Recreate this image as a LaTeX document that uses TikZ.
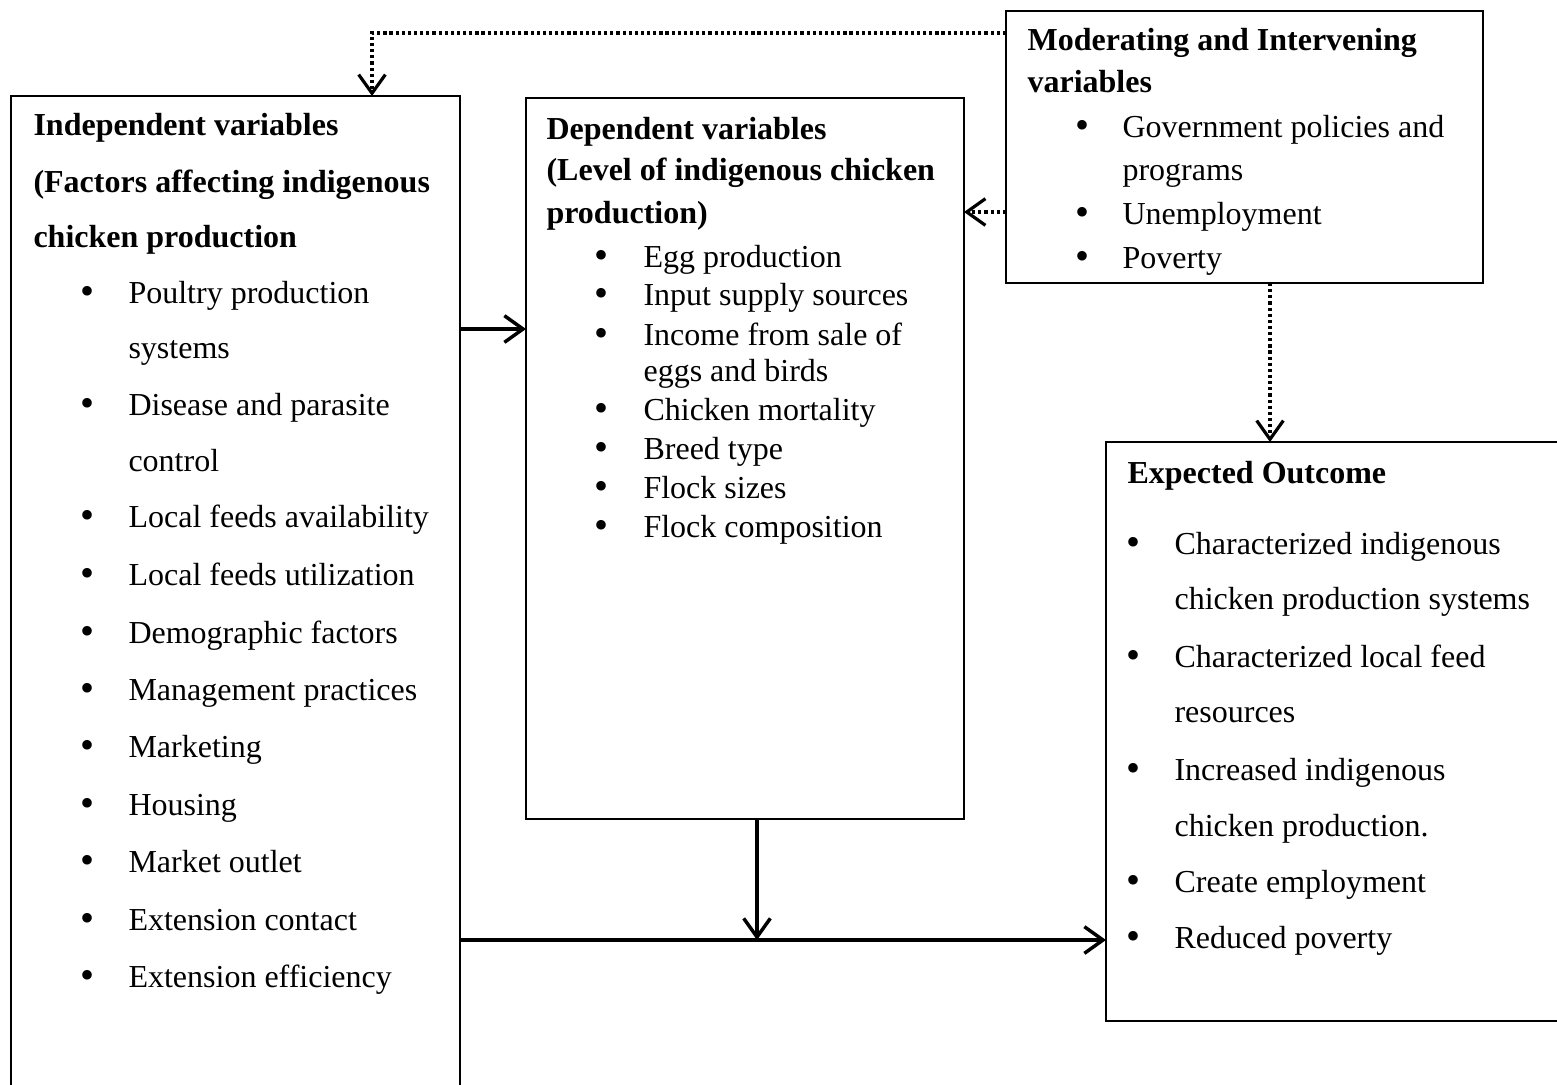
\documentclass[tikz,border=0pt]{standalone}
\usepackage{fontspec}
\setmainfont{Liberation Serif}
\usetikzlibrary{arrows.meta}
\begin{document}
\begin{tikzpicture}[x=0.375pt,y=-0.375pt,
  box/.style={draw, line width=0.6pt, inner sep=0pt, outer sep=0pt, anchor=north west},
  ln/.style={anchor=base west, inner sep=0pt, font=\fontsize{12pt}{14pt}\selectfont},
  hd/.style={anchor=base west, inner sep=0pt, font=\fontsize{12pt}{14pt}\selectfont\bfseries},
  bul/.style={anchor=center, inner sep=0pt, font=\fontsize{15pt}{15pt}\selectfont},
  solidarrow/.style={line width=1.3pt, -{Straight Barb[length=7pt,width=10pt]}},
  dotarrow/.style={line width=1.4pt, dash pattern=on 1.2pt off 1.1pt, -{Straight Barb[length=7pt,width=10pt,line width=1.2pt]}}]
\useasboundingbox (0,0) rectangle (1557,1084);

% boxes
\node[box, minimum width=168.375pt, minimum height=374.625pt] (ind) at (11,96) {};
\node[box, minimum width=164.25pt, minimum height=270.375pt] (dep) at (526,98) {};
\node[box, minimum width=178.875pt, minimum height=102pt] (mod) at (1006,11) {};
\node[box, minimum width=170.25pt, minimum height=217.125pt] (exp) at (1106,442) {};

% independent variables
\node[hd] (i1) at (33,135) {Independent variables};
\node[hd] (i2) at (33,192) {(Factors affecting indigenous};
\node[hd] (i3) at (33,247) {chicken production};
\foreach \y/\t [count=\k] in {303/Poultry production, 415/Disease and parasite, 527/Local feeds availability, 585/Local feeds utilization, 643/Demographic factors, 700/Management practices, 757/Marketing, 815/Housing, 872/Market outlet, 930/Extension contact, 987/Extension efficiency}{
  \node[bul] (ib\k) at (87,\y-8) {•};
  \node[ln] (it\k) at (128,\y) {\t};
}
\node[ln] (iw1) at (128,358) {systems};
\node[ln] (iw2) at (128,471) {control};

% dependent variables
\node[hd] (d1) at (546,139) {Dependent variables};
\node[hd] (d2) at (546,180) {(Level of indigenous chicken};
\node[hd] (d3) at (546,223) {production)};
\foreach \y/\t [count=\k] in {267/Egg production, 305/Input supply sources, 345/Income from sale of, 420/Chicken mortality, 459/Breed type, 498/Flock sizes, 537/Flock composition}{
  \node[bul] (db\k) at (601,\y-8) {•};
  \node[ln] (dt\k) at (643,\y) {\t};
}
\node[ln] (dw1) at (643,381) {eggs and birds};

% moderating variables
\begin{scope}
\clip (1006,11) rectangle (1483,283);
\node[hd] (m1) at (1027,51) {Moderating and Intervening};
\node[hd] (m2) at (1027,93) {variables};
\foreach \y/\t [count=\k] in {137/Government policies and, 224/Unemployment, 268/Poverty}{
  \node[bul] (mb\k) at (1082,\y-8) {•};
  \node[ln] (mt\k) at (1122,\y) {\t};
}
\node[ln] (mw1) at (1122,180) {programs};
\end{scope}

% expected outcome
\node[hd] (e1) at (1127,483) {Expected Outcome};
\foreach \y/\t [count=\k] in {554/Characterized indigenous, 667/Characterized local feed, 780/Increased indigenous, 892/Create employment, 948/Reduced poverty}{
  \node[bul] (eb\k) at (1133,\y-8) {•};
  \node[ln] (et\k) at (1174,\y) {\t};
}
\node[ln] (ew1) at (1174,609) {chicken production systems};
\node[ln] (ew2) at (1174,722) {resources};
\node[ln] (ew3) at (1174,836) {chicken production.};

% connectors
\coordinate (c1) at (372,33);
\coordinate (c2) at (0,212);
\coordinate (c3) at (0,329);
\coordinate (c4) at (1270,0);
\coordinate (j) at (757,940);
\draw[dotarrow] (mod.west |- c1) -- (c1) -- (c1 |- ind.north);
\draw[dotarrow] (mod.west |- c2) -- (dep.east |- c2);
\draw[solidarrow] (ind.east |- c3) -- (dep.west |- c3);
\draw[dotarrow] (mod.south -| c4) -- (exp.north -| c4);
\draw[solidarrow] (dep.south -| j) -- (j);
\draw[solidarrow] (ind.east |- j) -- (exp.west |- j);
\end{tikzpicture}
\end{document}
